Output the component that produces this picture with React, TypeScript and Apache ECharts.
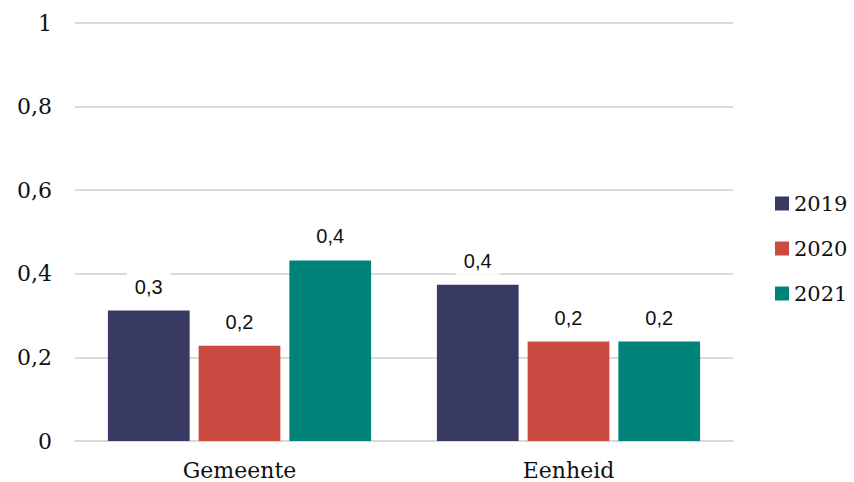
import React, { useEffect, useRef } from "react";
import * as echarts from "echarts";

const categories = ["Gemeente", "Eenheid"];
const years = ["2019", "2020", "2021"];
const values2019 = [0.312, 0.374];
const values2020 = [0.228, 0.238];
const values2021 = [0.432, 0.238];
const colors = ["#383a63", "#cb4b42", "#00847a"];

const serif = "'DejaVu Serif', 'Liberation Serif', serif";
const sans = "'Liberation Sans', Arial, sans-serif";

export default function App() {
  const ref = useRef<HTMLDivElement>(null);
  useEffect(() => {
    if (!ref.current) return;
    const chart = echarts.init(ref.current, undefined, { renderer: "svg" });
    const seriesData = [values2019, values2020, values2021];
    chart.setOption({
      animation: false,
      backgroundColor: "#ffffff",
      grid: { left: 75, right: 121, top: 23, bottom: 41 },
      legend: {
        orient: "vertical",
        left: 775,
        top: 193,
        padding: 0,
        itemWidth: 14,
        itemHeight: 14,
        itemGap: 24,
        icon: "rect",
        textStyle: { fontFamily: serif, fontSize: 21, color: "#111" },
        data: years,
      },
      xAxis: {
        type: "category",
        data: categories,
        axisLine: { lineStyle: { color: "#d9d9d9", width: 2 } },
        axisTick: { show: false },
        axisLabel: { fontFamily: serif, fontSize: 22, color: "#111", margin: 18 },
      },
      yAxis: {
        type: "value",
        min: 0,
        max: 1,
        interval: 0.2,
        axisLine: { show: false },
        axisTick: { show: false },
        splitLine: { lineStyle: { color: "#d9d9d9", width: 2 } },
        axisLabel: {
          fontFamily: serif,
          fontSize: 22,
          color: "#111",
          margin: 23,
          formatter: (v: number) => (v === 0 ? "0" : v === 1 ? "1" : v.toFixed(1).replace(".", ",")),
        },
      },
      series: years.map((y, i) => ({
        name: y,
        type: "bar",
        data: seriesData[i],
        barGap: "11%",
        barCategoryGap: "20%",
        itemStyle: { color: colors[i] },
        label: {
          show: true,
          position: "top",
          distance: 10,
          fontFamily: sans,
          fontSize: 20,
          color: "#111",
          backgroundColor: "#ffffff",
          padding: [4, 8],
          formatter: (p: any) => (Math.round(p.value * 10) / 10).toFixed(1).replace(".", ","),
        },
      })),
    });
    return () => chart.dispose();
  }, []);
  return <div ref={ref} style={{ width: 854, height: 482, position: "absolute", left: 0, top: 0 }} />;
}
